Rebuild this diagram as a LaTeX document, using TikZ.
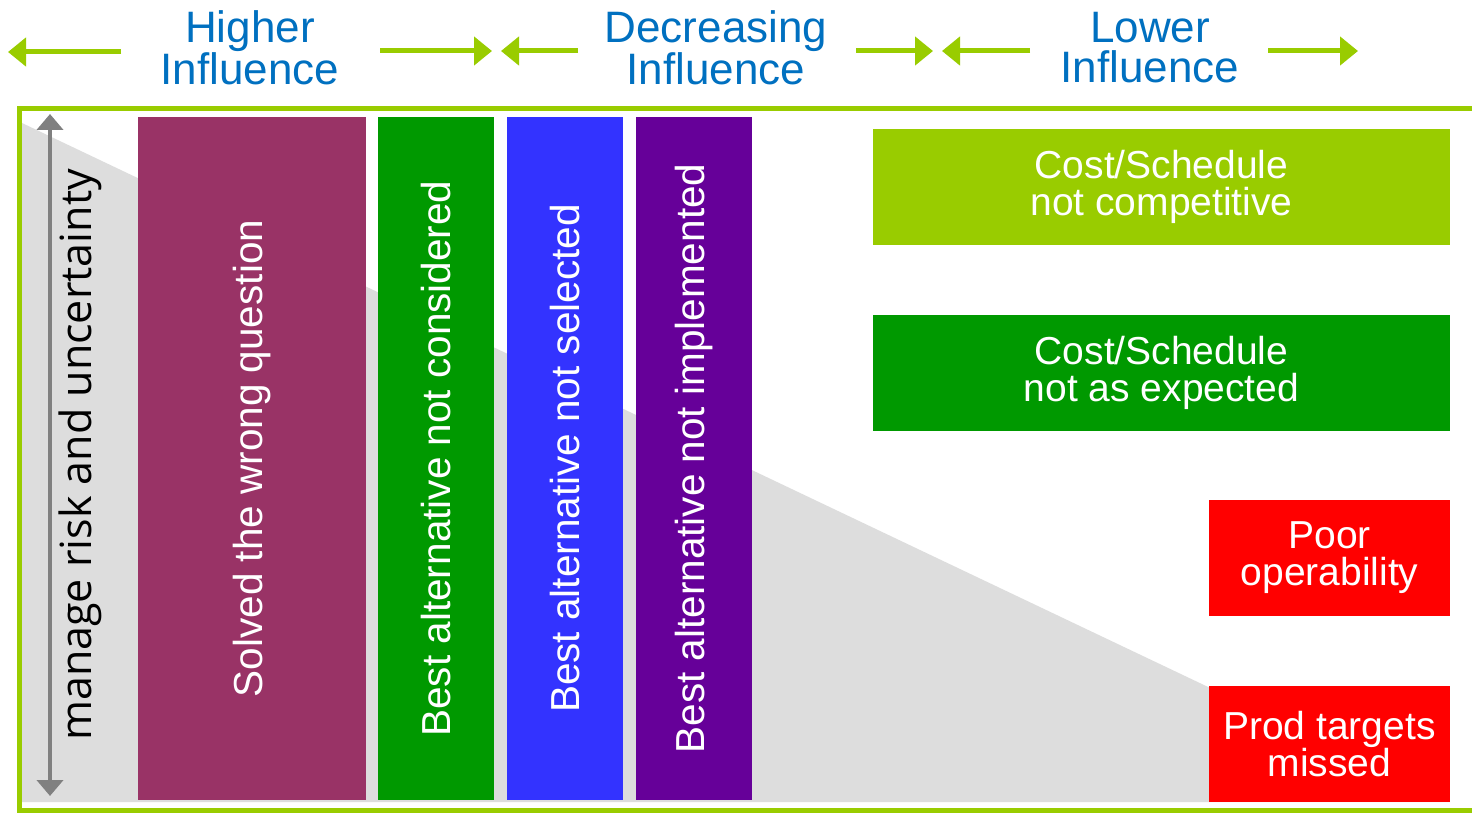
\documentclass[tikz,border=0pt]{standalone}
\usepackage{fontspec}
\setmainfont{Liberation Sans}
\newfontfamily\axisfont{Open Sans}
\usetikzlibrary{arrows.meta}

\definecolor{framegreen}{HTML}{99CC00}
\definecolor{headblue}{HTML}{0070C0}
\definecolor{wedgegray}{HTML}{DDDDDD}
\definecolor{axisgray}{HTML}{808080}
\definecolor{maroonbar}{HTML}{993366}
\definecolor{greenbar}{HTML}{009900}
\definecolor{bluebar}{HTML}{3333FF}
\definecolor{purplebar}{HTML}{660099}
\definecolor{redbox}{HTML}{FF0000}

\begin{document}
\begin{tikzpicture}[x=1pt,y=-1pt,
  colbar/.style={rotate=90, fill=#1, text=white, inner sep=0pt,
    minimum width=683pt, font=\fontsize{40.5}{38}\selectfont},
  sidebox/.style={fill=#1, text=white, inner sep=0pt, align=center,
    minimum height=116pt, font=\fontsize{39}{37}\selectfont},
  headtext/.style={text=headblue, align=center, inner sep=0pt,
    font=\fontsize{44}{40}\selectfont},
  inflarrow/.style={draw=framegreen, line width=5pt,
    -{Triangle[length=18pt,width=28pt]}},
  axisarrow/.style={draw=axisgray, line width=4pt,
    {Triangle[length=16pt,width=26pt]}-{Triangle[length=16pt,width=26pt]}}
]
\useasboundingbox (0,0) rectangle (1472,813);
\fill[white] (0,0) rectangle (1472,813);

% shrinking grey wedge behind the bars
\fill[wedgegray] (22,123) -- (1450,802) -- (22,802) -- cycle;

% green frame, open at the right
\draw[framegreen, line width=5pt] (1472,108.5) -- (19.5,108.5) -- (19.5,810) -- (1472,810);

% header labels
\node[headtext] (hi) at (250,47.5) {Higher\\Influence};
\node[headtext] (dec) at (716,47.5) {Decreasing\\Influence};
\node[headtext] (lo) at (1150,47.5) {Lower\\Influence};

% header arrows
\coordinate (a1s) at (121,52);   \coordinate (a1e) at (8,52);
\coordinate (a2s) at (380,51);   \coordinate (a2e) at (492,51);
\coordinate (a3s) at (578,51);   \coordinate (a3e) at (501,51);
\coordinate (a4s) at (856,51);   \coordinate (a4e) at (933,51);
\coordinate (a5s) at (1030,51);  \coordinate (a5e) at (942,51);
\coordinate (a6s) at (1268,51);  \coordinate (a6e) at (1358,51);
\draw[inflarrow] (a1s) -- (a1e);
\draw[inflarrow] (a2s) -- (a2e);
\draw[inflarrow] (a3s) -- (a3e);
\draw[inflarrow] (a4s) -- (a4e);
\draw[inflarrow] (a5s) -- (a5e);
\draw[inflarrow] (a6s) -- (a6e);

% vertical axis
\coordinate (axtop) at (50,114);
\coordinate (axbot) at (50,796);
\draw[axisarrow] (axbot) -- (axtop);
\node[rotate=90, inner sep=0pt, font=\axisfont\fontsize{43}{43}\selectfont] (axlabel) at (80,455) {manage risk and uncertainty};

% vertical bars
\node[colbar=maroonbar, minimum height=228pt] (c1) at (252,458.5) {Solved the wrong question};
\node[colbar=greenbar, minimum height=116pt] (c2) at (436,458.5) {Best alternative not considered};
\node[colbar=bluebar, minimum height=116pt] (c3) at (565,458.5) {Best alternative not selected};
\node[colbar=purplebar, minimum height=116pt] (c4) at (694,458.5) {Best alternative not implemented};

% outcome boxes
\node[sidebox=framegreen, minimum width=577pt] (b1) at (1161.5,187) {Cost/Schedule\\not competitive};
\node[sidebox=greenbar, minimum width=577pt] (b2) at (1161.5,373) {Cost/Schedule\\not as expected};
\node[sidebox=redbox, minimum width=241pt] (b3) at (1329.5,558) {Poor\\operability};
\node[sidebox=redbox, minimum width=241pt] (b4) at (1329.5,744) {Prod targets\\missed};
\end{tikzpicture}
\end{document}
